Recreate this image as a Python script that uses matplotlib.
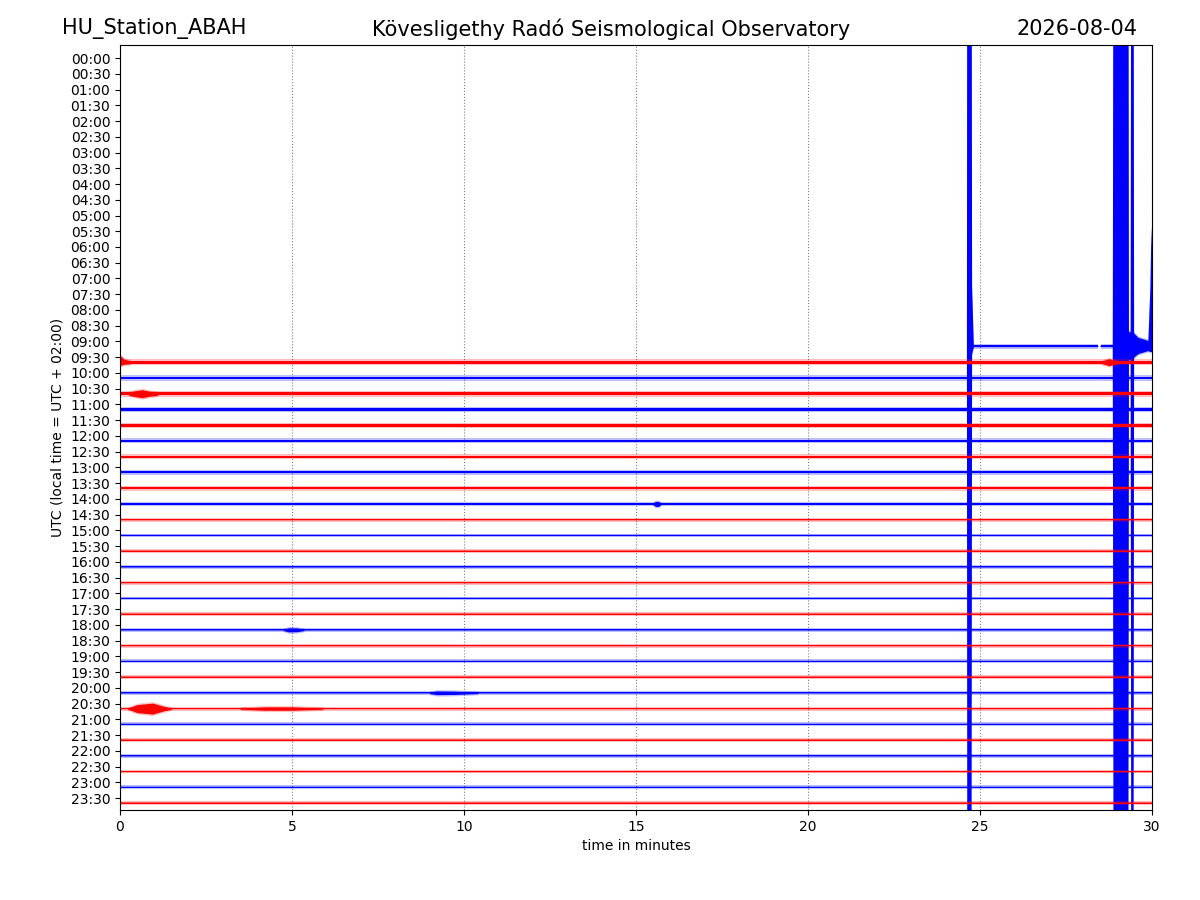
import matplotlib
matplotlib.use('Agg')

import matplotlib.pyplot as plt
import numpy as np


row_labels = ["00:00", "00:30", "01:00", "01:30", "02:00", "02:30", "03:00", "03:30",
              "04:00", "04:30", "05:00", "05:30", "06:00", "06:30", "07:00", "07:30",
              "08:00", "08:30", "09:00", "09:30", "10:00", "10:30", "11:00", "11:30",
              "12:00", "12:30", "13:00", "13:30", "14:00", "14:30", "15:00", "15:30",
              "16:00", "16:30", "17:00", "17:30", "18:00", "18:30", "19:00", "19:30",
              "20:00", "20:30", "21:00", "21:30", "22:00", "22:30", "23:00", "23:30"]

# rows that hold data: 09:00 .. 23:30
data_rows = list(range(18, 48))
# half width of the background noise band (pixels)
noise_px = [1.0, 1.4, 1.2, 1.4, 1.2, 1.3, 1.1, 1.2, 1.0, 1.1, 1.0,
            0.5, 0.5, 0.5, 0.5, 0.5, 0.5, 0.5, 0.5, 0.5, 0.5,
            0.5, 0.5, 0.5, 0.5, 0.5, 0.5, 0.5, 0.5, 0.5]
# recorded segments (minutes) per row, default is the full half hour
segments = {18: [(24.65, 28.42), (28.52, 30.0)]}

# events: row, times (min), upward / downward amplitude (pixels)
ev_row = [18, 18, 18, 18, 18,
          19, 19, 21, 28, 36, 40, 41, 41]
ev_t = [[24.62, 24.64, 24.74, 24.77, 24.82],
        [28.86, 28.90, 29.30, 29.33],
        [29.38, 29.41, 29.45, 29.48],
        [29.30, 29.45, 29.60, 29.80, 29.95],
        [29.88, 29.94, 29.97, 30.0],
        [0.0, 0.03, 0.12, 0.30],
        [28.55, 28.75, 28.85, 29.0],
        [0.25, 0.45, 0.65, 0.85, 1.10],
        [15.50, 15.57, 15.65, 15.72],
        [4.75, 4.90, 5.15, 5.35],
        [9.0, 9.2, 9.7, 10.4],
        [0.22, 0.50, 0.95, 1.25, 1.50],
        [3.5, 4.2, 5.0, 5.9]]
ev_up = [[1.0, 900, 900, 60, 1.0],
         [1.5, 900, 900, 15],
         [12, 900, 900, 12],
         [15, 14, 9, 7, 5],
         [5, 60, 120, 80],
         [6, 6, 3, 1.4],
         [1.4, 3.5, 2.5, 1.4],
         [1.4, 3.0, 4.0, 2.5, 1.4],
         [1.0, 2.5, 2.5, 1.0],
         [0.5, 2.0, 1.8, 0.5],
         [0.5, 1.8, 1.6, 0.5],
         [0.5, 4.0, 5.5, 2.5, 0.5],
         [0.5, 1.6, 1.6, 0.5]]
ev_down = [[1.0, 900, 900, 8, 1.0],
           [1.5, 900, 900, 15],
           [12, 900, 900, 12],
           [14, 11, 7, 5, 3],
           [4, 5, 5, 5],
           [3, 3, 2, 1.4],
           [1.4, 3.5, 2.5, 1.4],
           [1.4, 3.0, 4.0, 2.5, 1.4],
           [1.0, 2.5, 2.5, 1.0],
           [0.5, 2.0, 1.8, 0.5],
           [0.5, 1.8, 1.6, 0.5],
           [0.5, 4.0, 5.5, 2.5, 0.5],
           [0.5, 1.6, 1.6, 0.5]]


fig = plt.figure(figsize=(12, 9), dpi=100)
ax = fig.add_axes([0.1, 0.1, 0.86, 0.85])

ylim = (47.76, -0.83)
ax.set_xlim(0, 30)
ax.set_ylim(*ylim)
px_per_row = 0.85 * 900 / (ylim[0] - ylim[1])
offset = 0.32


def colour(row):
    return 'red' if row % 2 else 'blue'


def band(t, y0, up, down, c):
    t = np.asarray(t, dtype=float)
    up = np.asarray(up, dtype=float)
    down = np.asarray(down, dtype=float)
    # light fuzz around the trace, then the solid core
    ax.fill_between(t, y0 - (up + 1.4) / px_per_row, y0 + (down + 1.4) / px_per_row,
                    color=c, alpha=0.25, lw=0)
    ax.fill_between(t, y0 - up / px_per_row, y0 + down / px_per_row, color=c, lw=0)


for i, row in enumerate(data_rows):
    c = colour(row)
    y0 = row + offset
    for t0, t1 in segments.get(row, [(0.0, 30.0)]):
        a = noise_px[i]
        band([t0, t1], y0, [a, a], [a, a], c)
        ax.plot([t0, t1], [y0, y0], color=c, lw=0.9, snap=False)
    for r, t, up, down in zip(ev_row, ev_t, ev_up, ev_down):
        if r == row:
            band(t, y0, up, down, c)

ax.set_yticks(range(len(row_labels)))
ax.set_yticklabels(row_labels)
ax.set_xticks([0, 5, 10, 15, 20, 25, 30])
ax.xaxis.grid(True, linestyle=':', color='gray', lw=0.8)
ax.set_axisbelow(True)

ax.set_xlabel('time in minutes')
ax.set_ylabel('UTC (local time = UTC + 02:00)')

fig.text(62 / 1200, 0.968, 'HU_Station_ABAH', ha='left', va='center', fontsize=15)
fig.text(611 / 1200, 0.968, 'Kövesligethy Radó Seismological Observatory',
         ha='center', va='center', fontsize=15)
fig.text(1137 / 1200, 0.968, '2026-08-04', ha='right', va='center', fontsize=15)

plt.savefig('out.png')
